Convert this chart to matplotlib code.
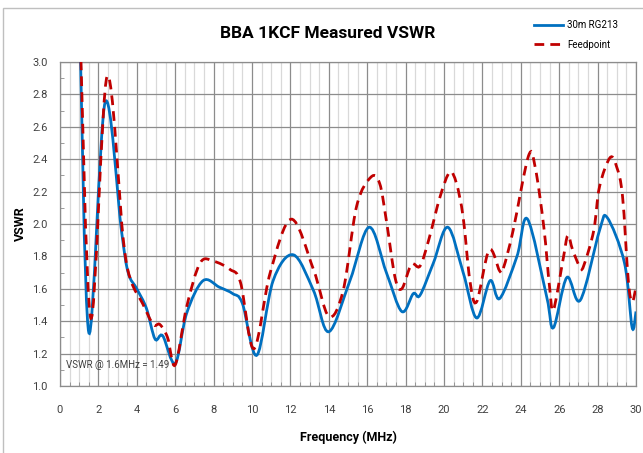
import matplotlib
matplotlib.use("Agg")
from matplotlib import pyplot as plt
from matplotlib.path import Path
from matplotlib.patches import PathPatch, Rectangle
from matplotlib.lines import Line2D
import numpy as np

plt.rcParams['font.family'] = ['Roboto', 'DejaVu Sans']

# 30m RG213 readings (MHz, VSWR)
rg213_freq = [1.0, 1.5, 2.35, 3.2, 3.55, 4.0, 4.5, 4.95, 5.35, 6.0, 6.6, 7.45, 8.3, 9.0, 9.5,
              10.25, 11.1, 12.15, 13.2, 14.0, 15.1, 16.1, 17.0, 17.8, 18.4, 18.75, 19.45,
              20.2, 21.0, 21.7, 22.4, 22.9, 23.8, 24.35, 25.35, 25.7, 26.4, 27.1, 28.1,
              28.5, 29.4, 29.8, 30.0]
rg213_vswr = [3.4, 1.33, 2.75, 1.96, 1.70, 1.60, 1.48, 1.29, 1.31, 1.14, 1.45, 1.65, 1.61, 1.57, 1.51,
              1.19, 1.65, 1.81, 1.59, 1.335, 1.65, 1.98, 1.70, 1.46, 1.57, 1.56, 1.76,
              1.98, 1.70, 1.42, 1.65, 1.54, 1.80, 2.03, 1.55, 1.36, 1.67, 1.53, 1.96,
              2.04, 1.76, 1.36, 1.46]

# Feedpoint readings (MHz, VSWR)
feed_freq = [1.0, 1.6, 2.45, 3.3, 3.7, 4.3, 4.85, 5.2, 5.6, 6.0, 6.6, 7.3, 8.0, 8.85, 9.4,
             10.1, 10.95, 12.05, 13.2, 14.0, 14.75, 15.45, 16.2, 16.65, 17.0, 17.45, 17.8,
             18.3, 18.75, 19.2, 19.8, 20.3, 20.65, 21.0, 21.35, 21.7, 22.35, 22.9, 23.1,
             23.6, 24.4, 24.75, 25.2, 25.5, 25.7, 26.2, 26.45, 26.7, 27.1, 27.3, 27.8,
             28.1, 28.65, 29.0, 29.3, 29.6, 29.8, 30.0]
feed_vswr = [3.4, 1.42, 2.91, 1.90, 1.65, 1.51, 1.38, 1.38, 1.30, 1.13, 1.49, 1.76, 1.77, 1.72, 1.64,
             1.23, 1.70, 2.03, 1.72, 1.43, 1.59, 2.11, 2.29, 2.25, 2.02, 1.67, 1.60,
             1.75, 1.74, 1.90, 2.17, 2.32, 2.25, 2.04, 1.65, 1.52, 1.84, 1.71, 1.73,
             1.96, 2.42, 2.35, 1.98, 1.61, 1.47, 1.78, 1.93, 1.84, 1.73, 1.75, 1.96,
             2.23, 2.41, 2.35, 2.17, 1.65, 1.52, 1.61]

BLUE = '#0070C0'
RED = '#C00000'


def smooth_path(xs, ys):
    # Excel-style smoothed line: cubic bezier through every point
    p = np.column_stack([xs, ys])
    n = len(p)
    verts = [p[0]]
    codes = [Path.MOVETO]
    for i in range(n - 1):
        p0 = p[i - 1] if i > 0 else p[i]
        p1 = p[i]
        p2 = p[i + 1]
        p3 = p[i + 2] if i + 2 < n else p[i + 1]
        c1 = p1 + (p2 - p0) / 6.0
        c2 = p2 - (p3 - p1) / 6.0
        verts += [c1, c2, p2]
        codes += [Path.CURVE4] * 3
    return Path(verts, codes)


fig = plt.figure(figsize=(6.43, 4.53), dpi=100)
ax = fig.add_axes([0.0933, 0.1479, 0.8958, 0.7152])

# chart frame
fig.patches.append(Rectangle((3 / 643, -0.1), 1.2, 1 - 8 / 453 + 0.1, transform=fig.transFigure,
                             fill=False, edgecolor='#bfbfbf', linewidth=1.0))

ax.set_xlim(0, 30)
ax.set_ylim(1.0, 3.0)
ax.set_xticks(np.arange(0, 31, 2))
ax.set_xticks(np.arange(0, 30.01, 0.5), minor=True)
ax.set_yticks(np.arange(1.0, 3.01, 0.2))
ax.set_yticks(np.arange(1.0, 3.01, 0.1), minor=True)
ax.set_yticklabels(['%.1f' % v for v in np.arange(1.0, 3.01, 0.2)])

ax.grid(which='major', color='#8c8c8c', linewidth=0.9)
ax.grid(which='minor', axis='x', color='#d9d9d9', linewidth=0.9)
ax.set_axisbelow(True)
for s in ax.spines.values():
    s.set_color('#8c8c8c')
    s.set_linewidth(0.9)

ax.tick_params(axis='x', which='major', length=0, pad=14, labelsize=8, colors='#404040')
ax.tick_params(axis='x', which='minor', direction='in', length=3, color='#8c8c8c')
ax.tick_params(axis='y', which='major', length=0, pad=9, labelsize=8, colors='#404040')
ax.tick_params(axis='y', which='minor', direction='in', length=3, color='#8c8c8c')

ax.add_patch(PathPatch(smooth_path(rg213_freq, rg213_vswr), fill=False, edgecolor=BLUE,
                       linewidth=2.0, zorder=3))
ax.add_patch(PathPatch(smooth_path(feed_freq, feed_vswr), fill=False, edgecolor=RED,
                       linewidth=2.0, linestyle=(0, (3.5, 2.2)), zorder=4))

ax.text(0.3, 1.13, 'VSWR @ 1.6MHz = 1.49', fontsize=7, color='#404040', va='center')

fig.text(0.51, 0.925, 'BBA 1KCF Measured VSWR', fontsize=12.5, fontweight='bold', ha='center', va='center')
ax.set_xlabel('Frequency (MHz)', fontsize=9, fontweight='bold', labelpad=11)
ax.set_ylabel('VSWR', fontsize=9, fontweight='bold', labelpad=4)

handles = [Line2D([], [], color=BLUE, linewidth=2.0),
           Line2D([], [], color=RED, linewidth=2.0, linestyle=(0, (3.5, 2.2)))]
fig.legend(handles, ['30m RG213', 'Feedpoint'], loc='upper right', bbox_to_anchor=(0.975, 0.975),
           frameon=False, fontsize=7, handlelength=3.0, labelspacing=1.0, handletextpad=0.4)

fig.savefig('out.png', dpi=100)
